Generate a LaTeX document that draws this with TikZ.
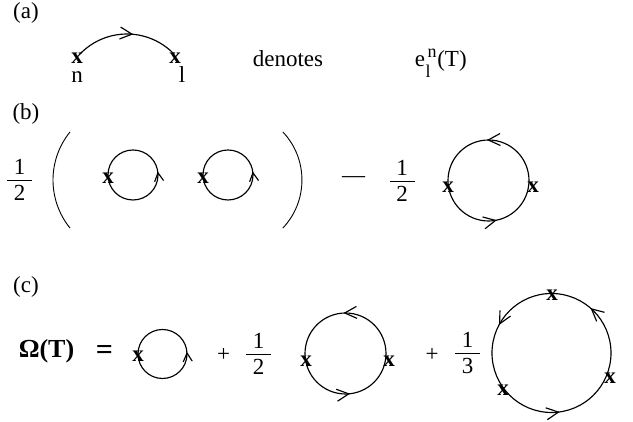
\documentclass[tikz,border=0pt]{standalone}
\usepackage{fontspec}
\setmainfont{Liberation Serif}
\usetikzlibrary{arrows.meta,decorations.markings}
\tikzset{
  smalltip/.tip={Straight Barb[length=8.5pt,width=9pt]},
  bigtip/.tip={Straight Barb[length=12pt,width=12pt]},
  txt/.style={inner sep=0pt, font=\fontsize{23}{27}\selectfont},
  xmark/.style={inner sep=0pt, font=\fontsize{23}{27}\selectfont\bfseries},
  sml/.style={inner sep=0pt, font=\fontsize{18}{21}\selectfont},
  bld/.style={inner sep=0pt, font=\fontsize{26}{30}\selectfont\bfseries},
  ln/.style={line width=1.15pt},
  thin/.style={line width=0.9pt},
  loopline/.style={ln, postaction={decorate}},
}
\newcommand\fracnodes[5]{%
  \node[txt, anchor=base] (#1n) at (#2,#3+5) {#4};
  \draw[thin] (#2-12.5,#3) coordinate (#1l) -- (#2+12.5,#3) coordinate (#1r);
  \node[txt, anchor=base] (#1d) at (#2,#3-21) {#5};}
\begin{document}
\begin{tikzpicture}[x=1pt,y=1pt]
\useasboundingbox (0,0) rectangle (633,422);

% ---------- (a)
\node[txt, anchor=base] (la) at (26,403) {(a)};
\node[xmark, anchor=base] (xn) at (77,358) {x};
\node[txt, anchor=base] (nn) at (77,339.5) {n};
\node[xmark, anchor=base] (x1) at (175,358) {x};
\node[txt, anchor=base] (l1) at (182,339.5) {l};
\coordinate (as) at (80,368);
\draw[loopline, decoration={markings, mark=at position 0.56 with {\arrow{bigtip}}}]
  (as) arc[start angle=136.1, end angle=43.9, radius=65.2];
\node[txt, anchor=base] (den) at (288,355) {denotes};
\node[txt, anchor=base] (ee) at (420,355) {e};
\node[sml, anchor=base] (en) at (432,364) {n};
\node[sml, anchor=base] (el) at (428,344) {l};
\node[txt, anchor=base] (eT) at (452,355) {(T)};

% ---------- (b)
\node[txt, anchor=base] (lb) at (26,302) {(b)};
\fracnodes{fa}{19.5}{242}{1}{2}
\coordinate (lpar) at (70,290);
\draw[thin] (lpar) arc[start angle=141, end angle=219, radius=76.3];
\coordinate (rpar) at (282.9,290);
\draw[thin] (rpar) arc[start angle=43.3, end angle=-43.3, radius=70];

\coordinate (cB1) at (133,247);
\draw[loopline, decoration={markings, mark=at position 0.022 with {\arrow{smalltip}}}]
  (cB1) ++(0:25) arc[start angle=0, end angle=360, radius=25];
\node[xmark] (xB1) at (108,244) {x};

\coordinate (cB2) at (228,247);
\draw[loopline, decoration={markings, mark=at position 0.022 with {\arrow{smalltip}}}]
  (cB2) ++(0:25) arc[start angle=0, end angle=360, radius=25];
\node[xmark] (xB2) at (203,244) {x};

\node[txt] (dash) at (353.5,242) {—};
\fracnodes{fb}{402}{241}{1}{2}

\coordinate (cB3) at (488.5,241.5);
\draw[loopline, decoration={markings,
    mark=at position 0.256 with {\arrow{bigtip}},
    mark=at position 0.783 with {\arrow{bigtip}}}]
  (cB3) ++(0:40.5) arc[start angle=0, end angle=360, radius=40.5];
\node[xmark] (xB3a) at (448,235) {x};
\node[xmark] (xB3b) at (533,235) {x};

% ---------- (c)
\node[txt, anchor=base] (lc) at (26,129) {(c)};
\node[bld, anchor=base] (om) at (46.5,64) {Ω(T)};
\node[bld, anchor=base, font=\fontsize{30}{34}\selectfont\bfseries] (eq) at (104.5,62) {=};

\coordinate (cC1) at (162.5,68);
\draw[loopline, decoration={markings, mark=at position 0.014 with {\arrow{smalltip}}}]
  (cC1) ++(0:24.5) arc[start angle=0, end angle=360, radius=24.5];
\node[xmark] (xC1) at (138,66) {x};

\node[txt] (p1) at (223.5,67) {+};
\fracnodes{fc}{258.5}{68}{1}{2}

\coordinate (cC2) at (345.5,68.5);
\draw[loopline, decoration={markings,
    mark=at position 0.258 with {\arrow{bigtip}},
    mark=at position 0.768 with {\arrow{bigtip}}}]
  (cC2) ++(0:40.5) arc[start angle=0, end angle=360, radius=40.5];
\node[xmark] (xC2a) at (306,61) {x};
\node[xmark] (xC2b) at (389,61) {x};

\node[txt] (p2) at (432,67) {+};
\fracnodes{fd}{467.5}{69}{1}{3}

\coordinate (cC3) at (551.5,69);
\draw[loopline, decoration={markings,
    mark=at position 0.136 with {\arrow{bigtip}},
    mark=at position 0.422 with {\arrow{bigtip}},
    mark=at position 0.772 with {\arrow{bigtip}}}]
  (cC3) ++(0:59.5) arc[start angle=0, end angle=360, radius=59.5];
\node[xmark] (xC3a) at (552,127) {x};
\node[xmark] (xC3b) at (610,44) {x};
\node[xmark] (xC3c) at (503,32) {x};
\end{tikzpicture}
\end{document}
